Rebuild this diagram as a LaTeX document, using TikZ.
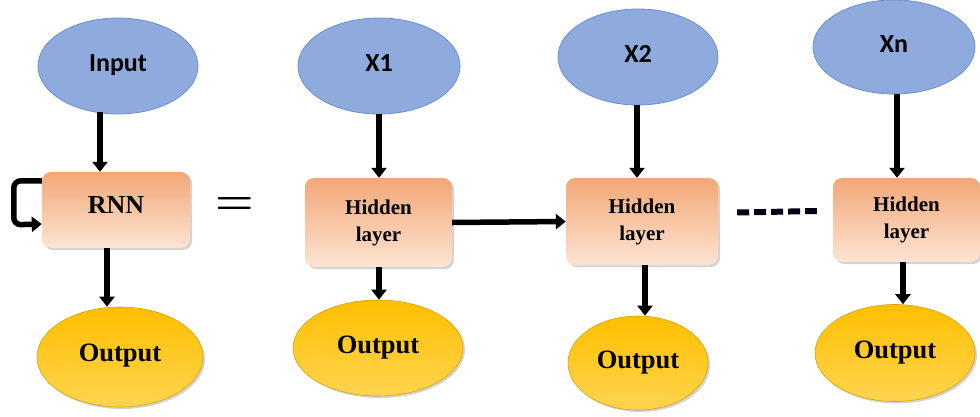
\documentclass[tikz,border=0pt]{standalone}
\usepackage{fontspec}
\setmainfont{Liberation Serif}
\newfontfamily\calib{Carlito}
\newfontfamily\lmr{Latin Modern Roman}
\usetikzlibrary{shapes.geometric,arrows.meta,shadows}
\definecolor{bluefill}{HTML}{8FAADC}
\definecolor{blueline}{HTML}{6C8ED0}
\definecolor{peachD}{HTML}{F2A776}
\definecolor{peachL}{HTML}{FCE4D4}
\definecolor{goldD}{HTML}{FFBF00}
\definecolor{goldL}{HTML}{FFD450}
\definecolor{goldline}{HTML}{D9A300}
\tikzset{
  inell/.style={ellipse, draw=blueline, line width=0.8pt, fill=bluefill, inner sep=0pt,
    font=\calib\bfseries\fontsize{26}{30}\selectfont},
  hbox/.style={rectangle, rounded corners=9pt, top color=peachD, bottom color=peachL,
    drop shadow={shadow xshift=2pt, shadow yshift=-2pt, opacity=0.35},
    align=center, inner sep=0pt, font=\bfseries\fontsize{21}{27}\selectfont},
  outell/.style={ellipse, draw=goldline, line width=0.6pt, top color=goldD, bottom color=goldL,
    drop shadow={shadow xshift=2pt, shadow yshift=-2pt, opacity=0.35}, inner sep=0pt,
    font=\bfseries\fontsize{26.5}{30}\selectfont},
  arr/.style={line width=5.5pt, -{Triangle[width=15pt,length=10pt]}},
}
\begin{document}
\begin{tikzpicture}[x=1pt,y=-1pt]
\useasboundingbox (0,0) rectangle (980,417);
% input ellipses
\node[inell, minimum width=160pt, minimum height=96pt] (in) at (118,66) {\raisebox{6pt}{Input}};
\node[inell, minimum width=162pt, minimum height=96pt] (x1) at (379,66) {\raisebox{6pt}{X1}};
\node[inell, minimum width=160pt, minimum height=96pt] (x2) at (638,57) {\raisebox{6pt}{X2}};
\node[inell, minimum width=162pt, minimum height=94pt] (xn) at (894,47) {\raisebox{6pt}{Xn}};
% boxes
\node[hbox, minimum width=148pt, minimum height=76pt, font=\bfseries\fontsize{26}{30}\selectfont] (rnn) at (116,210) {\raisebox{10pt}{RNN}};
\node[hbox, minimum width=147pt, minimum height=89pt] (h1) at (378.5,222.5) {Hidden\\layer};
\node[hbox, minimum width=152pt, minimum height=87pt] (h2) at (642,221.5) {Hidden\\layer};
\node[hbox, minimum width=147pt, minimum height=84pt] (h3) at (906.5,220) {Hidden\\layer};
% outputs
\node[outell, minimum width=166pt, minimum height=100pt] (o1) at (120,357) {\raisebox{8pt}{Output}};
\node[outell, minimum width=170pt, minimum height=96pt] (o2) at (378,348) {\raisebox{4pt}{Output}};
\node[outell, minimum width=140pt, minimum height=94pt] (o3) at (638,363) {\raisebox{5pt}{Output}};
\node[outell, minimum width=160pt, minimum height=97pt] (o4) at (895,353) {\raisebox{3pt}{Output}};
% equal sign
\node[font=\lmr\bfseries\fontsize{44}{46}\selectfont] (eq) at (235,206) {=};
% vertical arrows
\draw[arr] (in.south -| 100,0) ++(0,-2) -- (rnn.north -| 100,0);
\draw[arr] (rnn.south -| 107,0) -- (o1.north -| 107,0);
\draw[arr] (x1.south -| 379,0) -- (h1.north -| 379,0);
\draw[arr] (h1.south -| 379,0) -- (o2.north -| 379,0);
\draw[arr] (x2.south -| 637,0) -- (h2.north -| 637,0);
\draw[arr] (h2.south -| 645,0) -- (o3.north -| 645,0);
\draw[arr] (xn.south -| 897,0) -- (h3.north -| 897,0);
\draw[arr] (h3.south -| 903,0) -- (o4.north -| 903,0);
% horizontal arrow
\draw[arr] (h1.east) -- (h2.west);
% self loop
\draw[arr, rounded corners=7pt] ([yshift=-9pt]rnn.north west) -- ++(-28,0) -- ++(0,44) -- ([yshift=-14pt]rnn.west);
% dashes
\draw[line width=6pt, dash pattern=on 12pt off 5pt, color=black!90!blue]
  ([yshift=9pt, xshift=19pt]h2.east) -- ([yshift=9pt, xshift=-16pt]h3.west);
\end{tikzpicture}
\end{document}
